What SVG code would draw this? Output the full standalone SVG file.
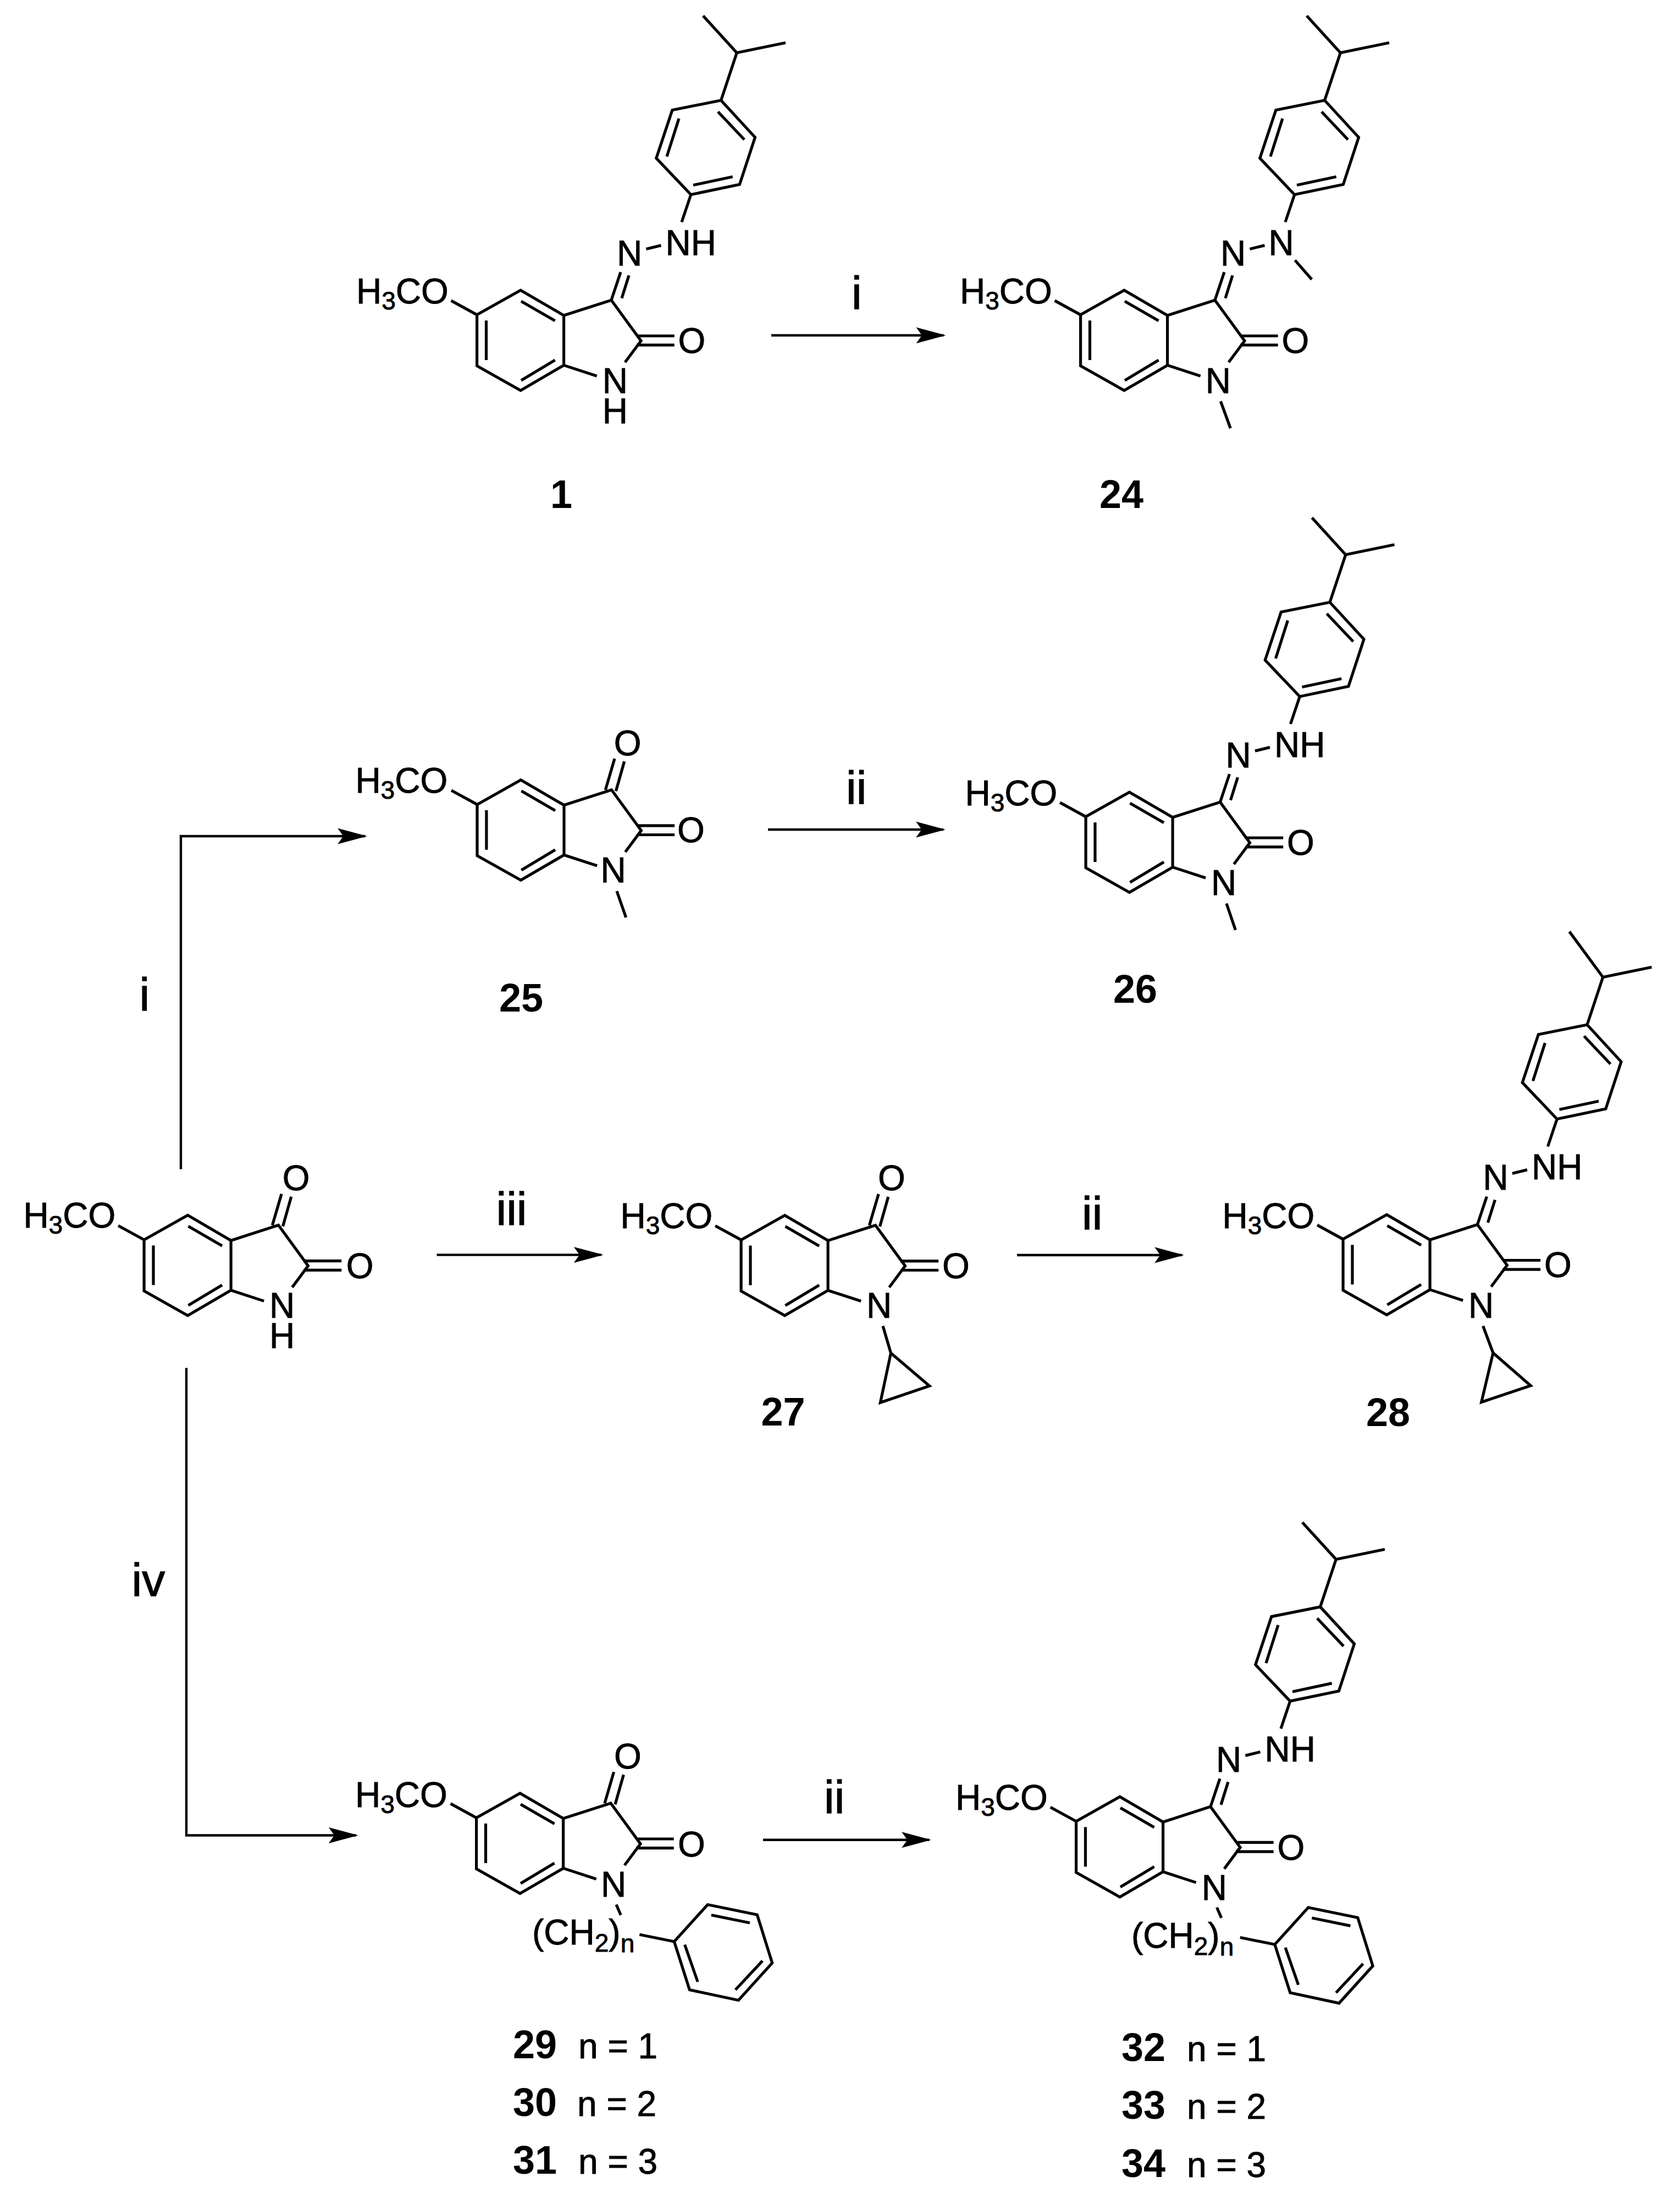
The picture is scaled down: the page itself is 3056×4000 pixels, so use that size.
<svg xmlns="http://www.w3.org/2000/svg" width="3056" height="4000" viewBox="0 0 3056 4000">
<style>
text{font-family:"Liberation Sans",Arial,sans-serif;font-size:64px;fill:#000;stroke:#000;stroke-width:.9}
.sub{font-size:46px}
.cmp{font-weight:bold;font-size:72px;stroke:none}
.rg{font-size:84px;stroke-width:1.3}
.b{fill:none;stroke:#000;stroke-width:5.2;stroke-linejoin:miter;stroke-linecap:butt}
.c{fill:none;stroke:#000;stroke-width:4.4;marker-end:url(#head)}
</style>
<defs>
<marker id="head" markerUnits="userSpaceOnUse" markerWidth="54" markerHeight="30" viewBox="0 0 52 28" refX="48" refY="14" orient="auto"><path d="M52 14L0 0L10 14L0 28Z" fill="#000"/></marker>
<g id="core" class="b">
<polygon points="867.6,572.6 947,527.9 1025.6,573.8 1025.6,664.4 947,710.3 867.6,665.6"/>
<path d="M884.5 583V655M948 548L1009.6 583.6M948 692L1009.6 655"/>
<path d="M820.6 546.9L867.6 572.6"/>
<path d="M1025.6 573.8L1112 546L1166 620L1137 659M1025.6 664.4L1085.7 684"/>
<path d="M1158 611H1226.7M1158 627.7H1226.7"/>
</g>
<g id="hyd" class="b">
<path d="M1112 546L1129 495M1131 542.5L1144 501"/>
<path d="M1175.4 453L1202.5 446.4"/>
<path d="M1256.8 354L1240 404"/>
<polygon points="1256.8,354 1193.8,287.8 1222.9,200.2 1311.6,182.5 1373.5,249.8 1345.4,335.6"/>
<path d="M1235 215.6L1213 284.8M1306 203.3L1354 254M1261 336.8L1332.7 321.5"/>
<path d="M1311.6 182.5L1340.3 96L1429 77.8"/>
</g>
<path id="me" class="b" d="M1279 28.8L1340.3 96"/>
<path id="ket" class="b" d="M1100.9 546.2L1117.6 489.2M1120 548.2L1135.3 494.2"/>
<g id="ph" class="b">
<polygon points="1226.4,3531.7 1287.3,3464.5 1377.3,3482.9 1404.7,3570.7 1343.3,3638.5 1254.4,3619.5"/>
<path d="M1293.9 3483.5L1364 3497.8M1387 3566.7L1337.8 3619.5M1269.2 3605L1245.6 3537.4"/>
<path d="M1163.3 3519L1226.4 3531.7"/>
<path d="M1121 3464.5L1129.3 3483.5"/>
</g>
</defs>
<rect width="3056" height="4000" fill="#fff"/>
<g id="connectors">
<path class="c" d="M329 2126.7V1521H664"/>
<path class="c" d="M339 2488.3V3338.5H647.6"/>
<path class="c" d="M1403 610H1716.4"/>
<path class="c" d="M1397 1509H1716"/>
<path class="c" d="M794.6 2282.6H1093.6"/>
<path class="c" d="M1850 2283H2150"/>
<path class="c" d="M1388 3346.8H1690"/>
<text class="rg" x="1549" y="561.5">i</text>
<text class="rg" x="253.5" y="1838">i</text>
<text class="rg" x="1539" y="1462">ii</text>
<text class="rg" x="902.5" y="2227.7">iii</text>
<text class="rg" x="1968" y="2236">ii</text>
<text class="rg" x="239.5" y="2903">iv</text>
<text class="rg" x="1499" y="3298">ii</text>
</g>
<g id="mol-1">
<use href="#core"/><use href="#hyd"/><use href="#me"/>
<text x="648" y="552">H<tspan class="sub" dy="11">3</tspan><tspan dy="-11">CO</tspan></text>
<text x="1122" y="482.5">N</text><text x="1210.6" y="463.6">NH</text><text x="1233.5" y="642">O</text><text x="1095.7" y="714.6">N<tspan x="1095.7" dy="55.8">H</tspan></text>
<text class="cmp" x="1021" y="923.5" text-anchor="middle">1</text>
</g>
<g id="mol-24">
<use href="#core" x="1098"/><use href="#hyd" x="1098"/><use href="#me" x="1098"/>
<path class="b" d="M2355.6 473.4L2386.2 508.3M2220.4 730L2238.3 779"/>
<text x="1746" y="552">H<tspan class="sub" dy="11">3</tspan><tspan dy="-11">CO</tspan></text>
<text x="2220" y="482.5">N</text><text x="2307.5" y="463.6">N</text><text x="2331.5" y="642">O</text><text x="2192.7" y="714.6">N</text>
<text class="cmp" x="2000" y="923.5">24</text>
</g>
<g id="mol-25">
<use href="#core" x="0.4" y="890.8"/><use href="#ket" x="0.4" y="890.8"/>
<path class="b" d="M1122 1621L1138.7 1668.8"/>
<text x="646.4" y="1441.5">H<tspan class="sub" dy="11">3</tspan><tspan dy="-11">CO</tspan></text>
<text x="1116.7" y="1373.5">O</text><text x="1232" y="1532">O</text><text x="1092.5" y="1605">N</text>
<text class="cmp" x="908" y="1839.7">25</text>
</g>
<g id="mol-26">
<use href="#core" x="1107.5" y="913"/><use href="#hyd" x="1107.5" y="913"/><use href="#me" x="1107.5" y="913"/>
<path class="b" d="M2231 1643.5L2247.4 1691.7"/>
<text x="1755.5" y="1465">H<tspan class="sub" dy="11">3</tspan><tspan dy="-11">CO</tspan></text>
<text x="2229.5" y="1395.5">N</text><text x="2318" y="1376.6">NH</text><text x="2341" y="1555">O</text><text x="2203" y="1627.6">N</text>
<text class="cmp" x="2025" y="1823.7">26</text>
</g>
<g id="mol-start">
<use href="#core" x="-605.5" y="1682.6"/><use href="#ket" x="-605.5" y="1682.6"/>
<text x="42.4" y="2233.3">H<tspan class="sub" dy="11">3</tspan><tspan dy="-11">CO</tspan></text>
<text x="513.8" y="2165">O</text><text x="629.7" y="2325">O</text><text x="490" y="2397.3">N<tspan x="490" dy="54.4">H</tspan></text>
</g>
<g id="mol-27">
<use href="#core" x="480.5" y="1682.8"/><use href="#ket" x="480.5" y="1682.8"/>
<path class="b" d="M1606 2412L1620.5 2461.2"/>
<polygon class="b" points="1620.5,2461.2 1690.7,2521 1601.4,2551.3"/>
<text x="1128.5" y="2234">H<tspan class="sub" dy="11">3</tspan><tspan dy="-11">CO</tspan></text>
<text x="1597" y="2164.5">O</text><text x="1714" y="2324.8">O</text><text x="1576" y="2397">N</text>
<text class="cmp" x="1384.5" y="2593">27</text>
</g>
<g id="mol-28">
<use href="#core" x="1575.5" y="1681.5"/><use href="#hyd" x="1575.5" y="1681.5"/>
<path class="b" d="M2854.8 1694.6L2915.8 1777.5M2697.7 2412L2716 2461"/>
<polygon class="b" points="2716,2461 2784.3,2520.5 2694.8,2550.5"/>
<text x="2223.5" y="2233.5">H<tspan class="sub" dy="11">3</tspan><tspan dy="-11">CO</tspan></text>
<text x="2697.5" y="2164">N</text><text x="2786" y="2145">NH</text><text x="2809" y="2323">O</text><text x="2671" y="2396.5">N</text>
<text class="cmp" x="2485" y="2594">28</text>
</g>
<g id="mol-29-31">
<use href="#core" x="-1" y="2734"/><use href="#ket" x="-1" y="2734"/><use href="#ph"/>
<text x="646" y="3286.6">H<tspan class="sub" dy="11">3</tspan><tspan dy="-11">CO</tspan></text>
<text x="1117" y="3216.5">O</text><text x="1233" y="3377">O</text><text x="1093" y="3450">N</text>
<text x="968" y="3537.4">(CH<tspan class="sub" dy="13">2</tspan><tspan dy="-13">)</tspan><tspan class="sub" dy="14">n</tspan></text>
<text class="cmp" x="933" y="3744">29</text><text x="1052" y="3744">n = 1</text>
<text class="cmp" x="933" y="3849">30</text><text x="1050" y="3849">n = 2</text>
<text class="cmp" x="933" y="3953.6">31</text><text x="1052" y="3953.6">n = 3</text>
</g>
<g id="mol-32-34">
<use href="#core" x="1090" y="2740.4"/><use href="#hyd" x="1090" y="2740.4"/><use href="#me" x="1090" y="2740.4"/><use href="#ph" x="1092.5" y="5.3"/>
<text x="1738" y="3292">H<tspan class="sub" dy="11">3</tspan><tspan dy="-11">CO</tspan></text>
<text x="2212" y="3222.9">N</text><text x="2300.6" y="3203.8">NH</text><text x="2323.5" y="3382.5">O</text><text x="2185.7" y="3455.5">N</text>
<text x="2058" y="3542.7">(CH<tspan class="sub" dy="13">2</tspan><tspan dy="-13">)</tspan><tspan class="sub" dy="14">n</tspan></text>
<text class="cmp" x="2040" y="3749">32</text><text x="2159" y="3749">n = 1</text>
<text class="cmp" x="2040" y="3854.3">33</text><text x="2159" y="3854.3">n = 2</text>
<text class="cmp" x="2040" y="3959.5">34</text><text x="2159" y="3959.5">n = 3</text>
</g>
</svg>
